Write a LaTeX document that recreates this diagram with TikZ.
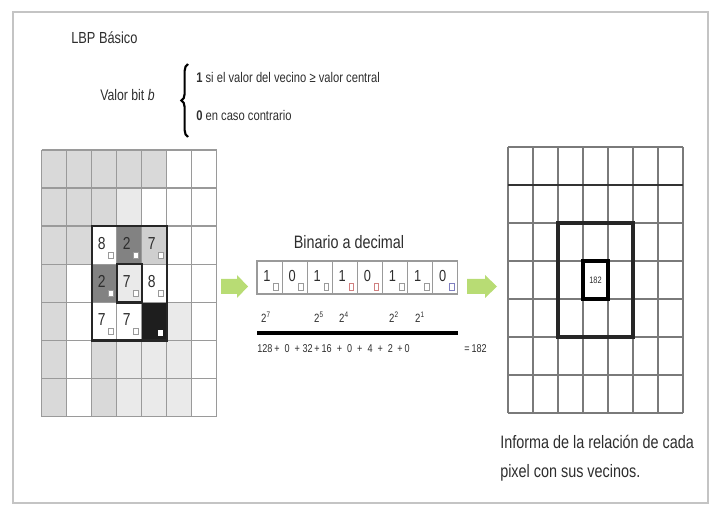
\documentclass[tikz,border=0pt]{standalone}
\usepackage{fontspec}
\setmainfont[FakeStretch=0.8]{Liberation Sans}
\usetikzlibrary{decorations.pathreplacing}
\definecolor{gridc}{HTML}{9A9A9A}
\definecolor{rgridc}{HTML}{7A7A7A}
\definecolor{cellG}{HTML}{D9D9D9}
\definecolor{cellL}{HTML}{EAEAEA}
\definecolor{cellM}{HTML}{CFCFCF}
\definecolor{cellD}{HTML}{828282}
\definecolor{cellK}{HTML}{1E1E1E}
\definecolor{arrowg}{HTML}{B8DC74}
\definecolor{framec}{HTML}{C4C4C4}
\definecolor{txt}{HTML}{2E2E2E}
\definecolor{subred}{HTML}{D08080}
\definecolor{subblue}{HTML}{8080C0}
\begin{document}
\begin{tikzpicture}[x=0.75pt,y=-0.75pt,
  every node/.style={inner sep=0pt,text=txt},
  gridline/.style={draw=gridc,line width=1.1pt},
  rgridline/.style={draw=rgridc,line width=0.8pt},
  thickbox/.style={draw=black!85,line width=1.8pt},
  digit/.style={font=\fontsize{13}{13}\selectfont},
  bitdigit/.style={font=\fontsize{12}{12}\selectfont},
  subbox/.style={draw=gridc,line width=0.5pt,fill=white,minimum width=3.5pt,minimum height=5pt},
  powlabel/.style={font=\fontsize{9}{9}\selectfont},
  sumtxt/.style={font=\fontsize{8.5}{8.5}\selectfont},
  greenarrow/.style={fill=arrowg,draw=none}
]
\useasboundingbox (0,0) rectangle (711,506);
% frame
\draw[framec,line width=1.6pt] (13,12) rectangle (708,503);

% header
\node[anchor=west,font=\fontsize{12}{12}\selectfont] (title) at (71,38) {LBP Básico};
\node[anchor=west,font=\fontsize{11.5}{11.5}\selectfont] (valor) at (100,95) {Valor bit \textit{b}};
\draw[line width=1.6pt,decorate,decoration={brace,amplitude=5pt}] (188,137) -- (188,64);
\node[anchor=west,font=\fontsize{10.5}{10.5}\selectfont] (c1) at (196,77) {\textbf{1} si el valor del vecino ≥ valor central};
\node[anchor=west,font=\fontsize{10.5}{10.5}\selectfont] (c2) at (196,115) {\textbf{0} en caso contrario};

% left grid fills
\foreach \c/\r/\f in {0/0/cellG,1/0/cellG,2/0/cellG,3/0/cellG,4/0/cellG,
  0/1/cellG,1/1/cellG,2/1/cellG,3/1/cellL,
  0/2/cellG,1/2/cellG,3/2/cellD,4/2/cellM,
  0/3/cellG,2/3/cellD,3/3/cellL,
  0/4/cellG,4/4/cellK,5/4/cellL,
  0/5/cellG,2/5/cellG,3/5/cellL,4/5/cellL,5/5/cellL,
  0/6/cellG,2/6/cellG,3/6/cellL,4/6/cellL,5/6/cellL}
  \fill[\f] ({41.7+\c*25},{150+\r*38.1}) rectangle ++(25,38.1);
\foreach \i in {0,...,7} {
  \draw[gridline] ({41.7+\i*25},150) -- ({41.7+\i*25},416.7);
  \draw[gridline] (41.7,{150+\i*38.1}) -- (216.7,{150+\i*38.1});
}
\draw[thickbox] (91.7,226.2) rectangle (166.7,340.5);
\draw[thickbox] (116.7,264.3) rectangle (141.7,302.4);
% left digits
\foreach \c/\r/\d/\n in {2/2/8/a,3/2/2/b,4/2/7/c,2/3/2/d,3/3/7/e,4/3/8/f,2/4/7/g,3/4/7/h} {
  \node[digit] (dig\n) at ({41.7+\c*25+10},{150+\r*38.1+17}) {\d};
  \node[subbox] (sub\n) at ({41.7+\c*25+19},{150+\r*38.1+29}) {};
}
\node[subbox,draw=none] (subk) at (160.7,333) {};

% green arrows
\fill[greenarrow] (221,279) -- (237,279) -- (237,275) -- (248,286.5) -- (237,298) -- (237,294) -- (221,294) -- cycle;
\fill[greenarrow] (467,279) -- (485,279) -- (485,275) -- (497,286.5) -- (485,298) -- (485,294) -- (467,294) -- cycle;

% binary
\node[font=\fontsize{13.5}{13.5}\selectfont] (bintitle) at (349,242) {Binario a decimal};
\foreach \k/\b/\sc in {0/1/gridc,1/0/gridc,2/1/gridc,3/1/subred,4/0/subred,5/1/gridc,6/1/gridc,7/0/subblue} {
  \draw[draw=gridc,line width=0.8pt] ({257+\k*25.1},261) rectangle ++(25.1,33);
  \node[bitdigit] (bit\k) at ({257+\k*25.1+10},{276}) {\b};
  \node[subbox,draw=\sc] (bsub\k) at ({257+\k*25.1+19},{287}) {};
}
\node[powlabel] (p7) at (266,317) {2\textsuperscript{7}};
\node[powlabel] (p5) at (319,317) {2\textsuperscript{5}};
\node[powlabel] (p4) at (344,317) {2\textsuperscript{4}};
\node[powlabel] (p2) at (394,317) {2\textsuperscript{2}};
\node[powlabel] (p1) at (420,317) {2\textsuperscript{1}};
\draw[black,line width=2.4pt] (257,333) -- (458,333);
\node[anchor=west,sumtxt] (sum) at (257,349) {128\,+\ \ 0\ \ +\ 32\,+\,16\ \ +\ \ 0\ \ +\ \ 4\ \ +\ \ 2\ \,+\,0};
\node[anchor=east,sumtxt] (res) at (487,349) {=\,182};

% right grid
\foreach \i in {0,...,7} {
  \draw[rgridline] ({508+\i*25},147) -- ({508+\i*25},413);
  \draw[rgridline] (508,{147+\i*38}) -- (683,{147+\i*38});
}
\draw[black!80,line width=1.6pt] (508,185) -- (683,185);
\draw[black!85,line width=2.4pt] (558,223) rectangle (633,337);
\draw[black,line width=3.4pt] (583,261) rectangle (608,299);
\node[font=\fontsize{7}{7}\selectfont] (val) at (595.5,280) {182};
\node[anchor=west,font=\fontsize{13.5}{13.5}\selectfont] (cap1) at (500,442) {Informa de la relación de cada};
\node[anchor=west,font=\fontsize{13.5}{13.5}\selectfont] (cap2) at (500,473) {pixel con sus vecinos.};
\end{tikzpicture}
\end{document}
